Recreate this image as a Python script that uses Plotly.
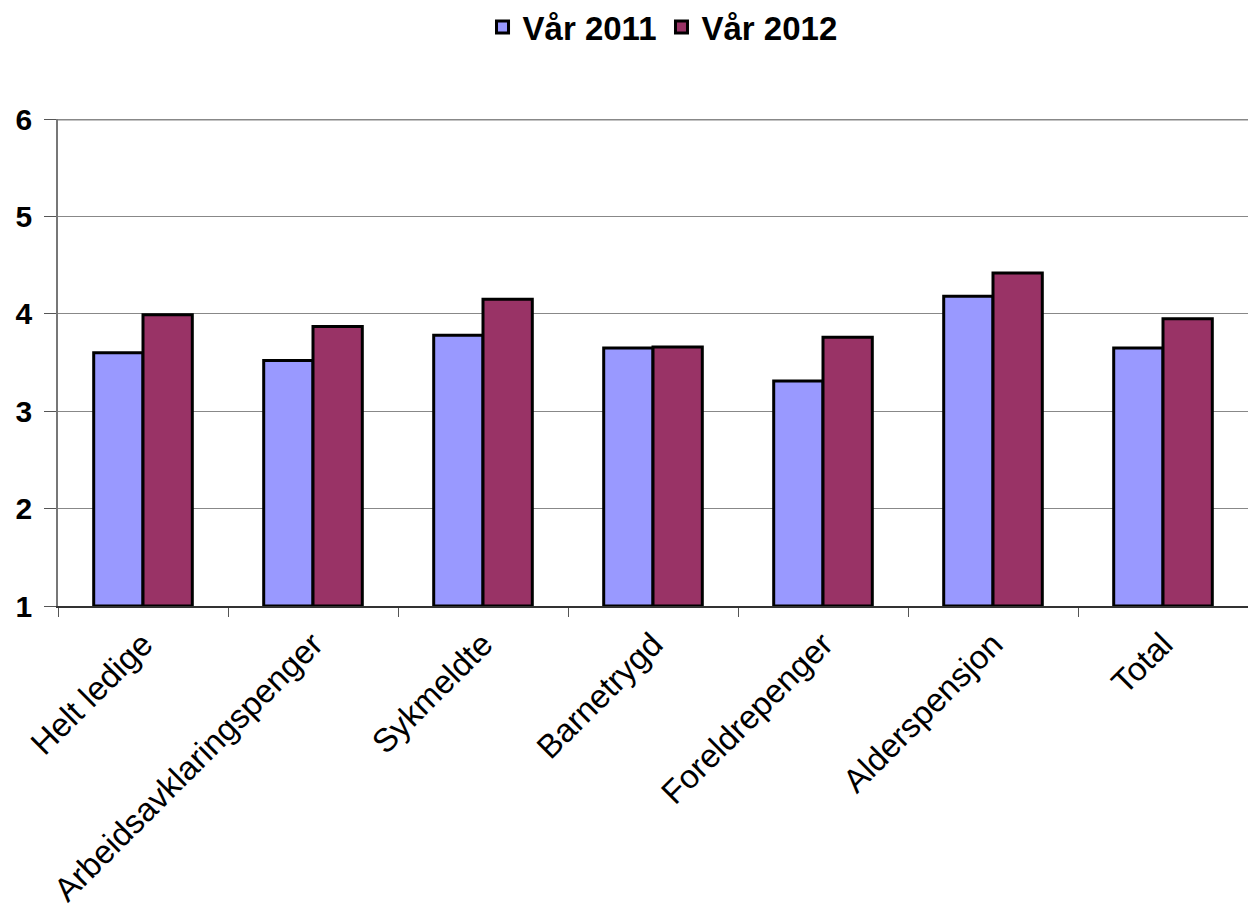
import plotly.graph_objects as go

categories = ["Helt ledige", "Arbeidsavklaringspenger", "Sykmeldte", "Barnetrygd",
              "Foreldrepenger", "Alderspensjon", "Total"]
var_2011 = [3.60, 3.52, 3.78, 3.65, 3.31, 4.18, 3.65]
var_2012 = [3.99, 3.87, 4.15, 3.66, 3.76, 4.42, 3.95]
y_ticks = [1, 2, 3, 4, 5, 6]

FONT = "Liberation Sans, Arial, sans-serif"

fig = go.Figure()
fig.add_trace(go.Bar(
    name="Vår 2011", x=categories, y=[v - 1 for v in var_2011], base=1,
    marker=dict(color="#9999FF", line=dict(color="black", width=3)),
))
fig.add_trace(go.Bar(
    name="Vår 2012", x=categories, y=[v - 1 for v in var_2012], base=1,
    marker=dict(color="#993366", line=dict(color="black", width=3)),
))

fig.update_layout(
    width=1248, height=914,
    margin=dict(l=58, r=0, t=119, b=308, autoexpand=False),
    paper_bgcolor="white", plot_bgcolor="white",
    barmode="group", bargap=0.42, bargroupgap=0,
    font=dict(family=FONT, color="black"),
    legend=dict(
        orientation="h", x=0.508, xanchor="center",
        yref="container", y=1 - 27 / 914, yanchor="middle",
        font=dict(size=33, family=FONT, weight="bold"),
        tracegroupgap=0,
    ),
    xaxis=dict(
        tickangle=-45, tickfont=dict(size=33, family=FONT),
        showline=True, linecolor="#333333", linewidth=1.5,
        ticks="outside", tickson="boundaries", ticklen=9, tickcolor="#555555",
        ticklabelstandoff=4,
        showgrid=False, automargin=False,
    ),
    yaxis=dict(
        range=[1, 6], tickvals=y_ticks, tickfont=dict(size=30, family=FONT, weight="bold"),
        showline=True, linecolor="#777777", linewidth=1.5,
        ticks="outside", ticklen=12, tickcolor="#555555",
        ticklabelstandoff=6,
        showgrid=True, gridcolor="#888888", gridwidth=1.2,
        zeroline=False, automargin=False,
    ),
)
# heavier rule along the top of the value range
fig.add_shape(type="line", xref="paper", yref="y", x0=0, x1=1, y0=6, y1=6,
              line=dict(color="#888888", width=3))

fig.write_html("out.html")
